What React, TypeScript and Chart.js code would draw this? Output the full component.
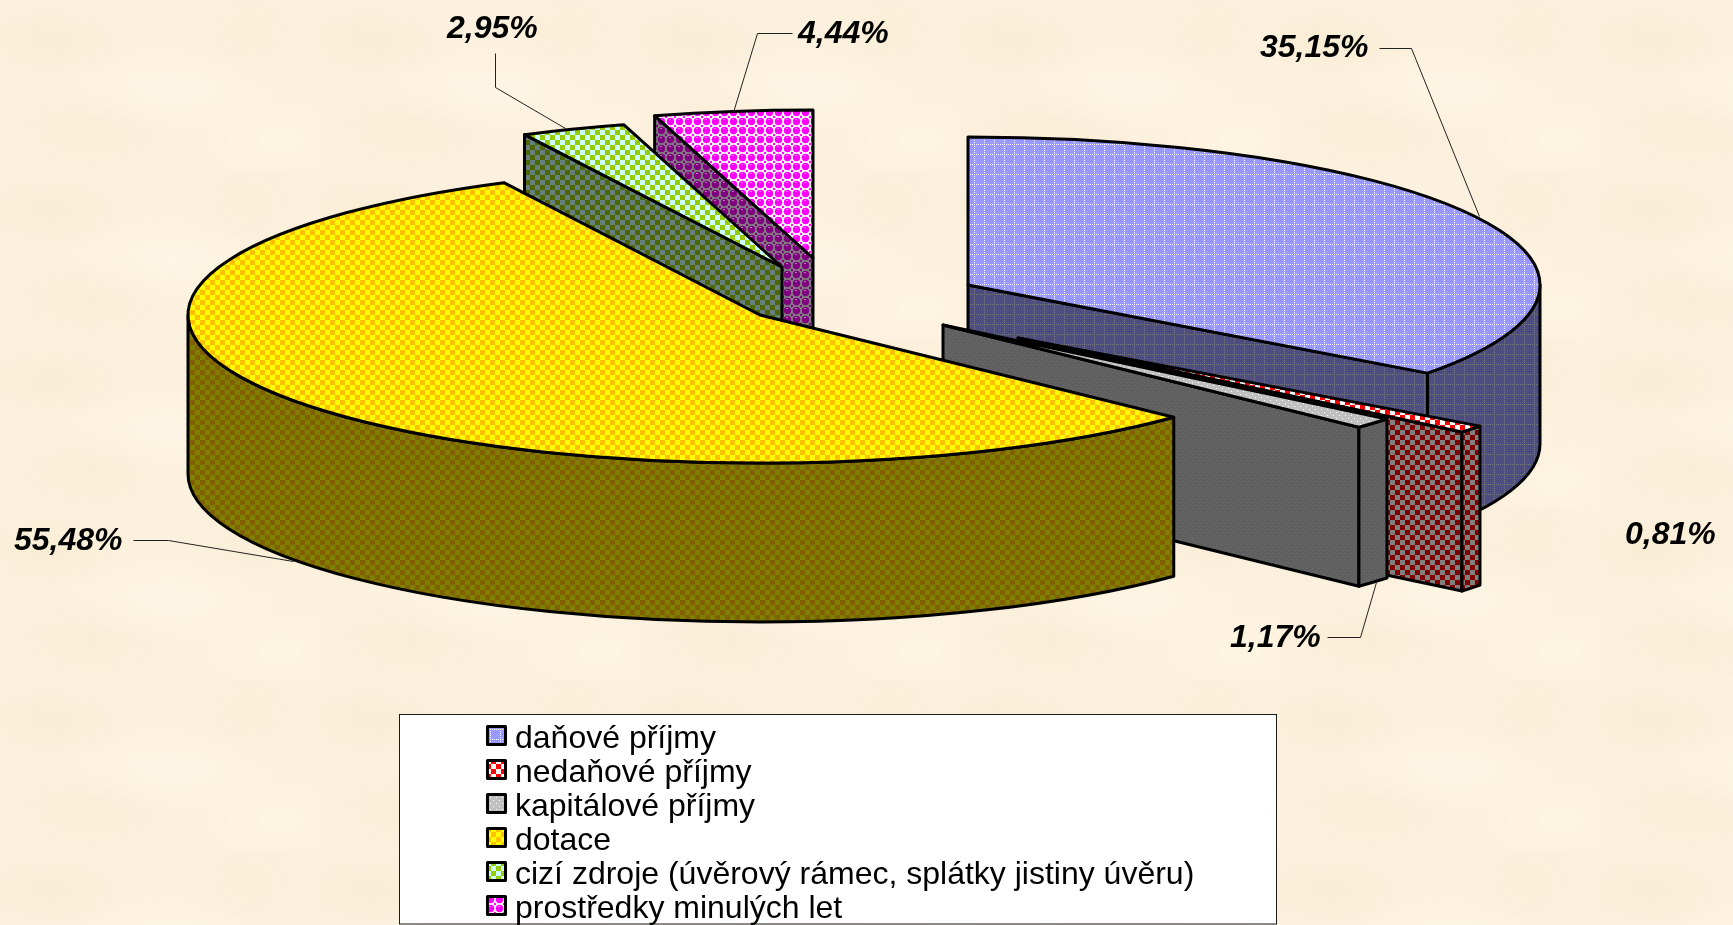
import React, { useEffect, useRef } from "react";
import { Chart, registerables } from "chart.js";

Chart.register(...registerables);

// ---- data ----
const categories = [
  "daňové příjmy",
  "nedaňové příjmy",
  "kapitálové příjmy",
  "dotace",
  "cizí zdroje (úvěrový rámec, splátky jistiny úvěru)",
  "prostředky minulých let",
];
const shares = [35.15, 0.81, 1.17, 55.48, 2.95, 4.44];

// ---- styles ----
const topColors = [
  ["#9999ff", "#ffffff"],
  ["#ff0000", "#ffffff"],
  ["#c0c0c0", "#ffffff"],
  ["#ffff00", "#ffc000"],
  ["#99cc00", "#ccffff"],
  ["#ff00ff", "#ffffff"],
];
const wallColors = [
  ["#4d4d80", "#7a7a78"],
  ["#800000", "#808080"],
  ["#606060", "#707070"],
  ["#808000", "#806000"],
  ["#4d6600", "#668080"],
  ["#800080", "#808080"],
];
const patternKinds = ["grid", "check", "dots", "check", "check", "balls"];

// ---- 3D layout ----
const pieCenterX = 860;
const pieCenterY = 300;
const sliceRadiusX = [572, 575, 575, 572, 575, 575];
const radiusY = 148;
const depth = 159;
const sliceShiftX = [108, 158, 83, -100, -78, -47];
const sliceShiftY = [-15, 38, 25, 15, -33, -42];
const paintOrder = [0, 1, 2, 5, 4, 3];

// ---- label layout ----
const labelX = [1260, 1625, 1230, 14, 447, 798];
const labelY = [48, 535, 638, 541, 29, 34];
const leaders: number[][][] = [
  [[1379, 48], [1411, 48], [1479, 216]],
  [],
  [[1327, 637], [1360, 637], [1376, 582]],
  [[133, 540], [168, 540], [293, 561]],
  [[495, 53], [495, 87], [565, 128]],
  [[792, 33], [757, 33], [733, 112]],
];

function makeTile(kind: string, a: string, b: string): HTMLCanvasElement {
  const c = document.createElement("canvas");
  const g = c.getContext("2d")!;
  if (kind === "check") {
    c.width = c.height = 10;
    g.fillStyle = a;
    g.fillRect(0, 0, 10, 10);
    g.fillStyle = b;
    g.fillRect(0, 0, 5, 5);
    g.fillRect(5, 5, 5, 5);
  } else if (kind === "grid") {
    c.width = c.height = 10;
    g.fillStyle = a;
    g.fillRect(0, 0, 10, 10);
    g.fillStyle = b;
    for (let i = 0; i < 10; i += 2) {
      g.fillRect(i, 4, 1, 1);
      g.fillRect(4, i, 1, 1);
    }
  } else if (kind === "dots") {
    c.width = c.height = 6;
    g.fillStyle = a;
    g.fillRect(0, 0, 6, 6);
    g.fillStyle = b;
    g.fillRect(1, 1, 1, 1);
    g.fillRect(4, 4, 1, 1);
  } else {
    c.width = c.height = 9;
    g.fillStyle = b;
    g.fillRect(0, 0, 9, 9);
    g.fillStyle = a;
    g.beginPath();
    g.arc(4.5, 4.5, 3.7, 0, Math.PI * 2);
    g.fill();
    for (const [x, y] of [[0, 0], [9, 0], [0, 9], [9, 9]]) {
      g.beginPath();
      g.arc(x, y, 1.2, 0, Math.PI * 2);
      g.fill();
    }
    g.fillStyle = "rgba(255,255,255,0.45)";
    g.fillRect(3, 2, 2, 1);
  }
  return c;
}

// the transparent strip under the square lifts it against the label's text
function makeSwatch(tile: HTMLCanvasElement): HTMLCanvasElement {
  const c = document.createElement("canvas");
  c.width = 21;
  c.height = 29;
  const g = c.getContext("2d")!;
  g.fillStyle = g.createPattern(tile, "repeat")!;
  g.fillRect(1, 1, 19, 19);
  g.strokeStyle = "#000";
  g.lineWidth = 3;
  g.lineJoin = "round";
  g.strokeRect(1.5, 1.5, 18, 18);
  return c;
}

function makePie3dPlugin(topPatterns: CanvasPattern[], wallPatterns: CanvasPattern[]) {
  return {
    id: "pie3d",
    beforeDraw(chart: any) {
      const { ctx, legend } = chart;
      ctx.save();
      ctx.fillStyle = "#ffffff";
      ctx.strokeStyle = "#1a1a1a";
      ctx.lineWidth = 1;
      ctx.fillRect(399.5, 714.5, 877, 209.5);
      ctx.strokeRect(399.5, 714.5, 877, 209.5);
      ctx.restore();
      legend.left = 492;
      legend.right = 1270;
      legend.top = 721.5;
      legend.bottom = 935;
      legend.draw = function () {
        this._draw();
      };
    },
    beforeDatasetsDraw(chart: any) {
      const { ctx } = chart;
      const arcs = chart.getDatasetMeta(0).data;
      for (const i of paintOrder) {
        const arc = arcs[i];
        const { startAngle: a0, endAngle: a1 } = arc;
        const radiusX = sliceRadiusX[i];
        const tx = pieCenterX + sliceShiftX[i];
        const ty = pieCenterY + sliceShiftY[i];
        const px = (a: number) => tx + radiusX * Math.cos(a);
        const py = (a: number) => ty + radiusY * Math.sin(a);

        ctx.save();
        ctx.lineWidth = 3;
        ctx.lineJoin = "round";
        ctx.strokeStyle = "#000";
        ctx.fillStyle = wallPatterns[i];

        const face = () => {
          ctx.fill();
          ctx.stroke();
        };
        // radial cut faces that look towards the viewer
        for (const a of [a0, a1]) {
          const visible = a === a0 ? Math.cos(a) < -1e-6 : Math.cos(a) > 1e-6;
          if (!visible) continue;
          ctx.beginPath();
          ctx.moveTo(tx, ty);
          ctx.lineTo(px(a), py(a));
          ctx.lineTo(px(a), py(a) + depth);
          ctx.lineTo(tx, ty + depth);
          ctx.closePath();
          face();
        }
        // curved outer face
        const from = Math.max(a0, 0);
        const to = Math.min(a1, Math.PI);
        if (to > from) {
          ctx.beginPath();
          ctx.ellipse(tx, ty, radiusX, radiusY, 0, from, to, false);
          ctx.lineTo(px(to), py(to) + depth);
          ctx.ellipse(tx, ty + depth, radiusX, radiusY, 0, to, from, true);
          ctx.closePath();
          face();
        }

        // top face: the library's own arc under a flattening transform
        const sx = radiusX / arc.outerRadius;
        const sy = radiusY / arc.outerRadius;
        ctx.save();
        ctx.translate(tx, ty);
        ctx.scale(sx, sy);
        ctx.translate(-arc.x, -arc.y);
        topPatterns[i].setTransform(ctx.getTransform().inverse());
        arc.draw(ctx);
        ctx.restore();

        ctx.beginPath();
        ctx.moveTo(tx, ty);
        ctx.ellipse(tx, ty, radiusX, radiusY, 0, a0, a1, false);
        ctx.closePath();
        ctx.stroke();
        ctx.restore();
      }

      // leader lines and value labels
      ctx.save();
      ctx.strokeStyle = "#222";
      ctx.lineWidth = 1;
      leaders.forEach((pts) => {
        if (!pts.length) return;
        ctx.beginPath();
        pts.forEach(([x, y], k) => (k ? ctx.lineTo(x + 0.5, y + 0.5) : ctx.moveTo(x + 0.5, y + 0.5)));
        ctx.stroke();
      });
      ctx.fillStyle = "#000";
      ctx.font = "italic bold 32px 'Liberation Sans'";
      ctx.textAlign = "left";
      ctx.textBaseline = "middle";
      shares.forEach((v, i) => {
        ctx.fillText(v.toFixed(2).replace(".", ",") + "%", labelX[i], labelY[i]);
      });
      ctx.restore();
      return false;
    },
  };
}

const pageBackground = [
  "radial-gradient(ellipse 90px 40px at 50px 40px, rgba(244,231,200,.45), transparent)",
  "radial-gradient(ellipse 110px 45px at 170px 90px, rgba(255,248,232,.55), transparent)",
  "radial-gradient(ellipse 70px 60px at 250px 30px, rgba(246,234,206,.4), transparent)",
  "radial-gradient(ellipse 100px 50px at 90px 130px, rgba(245,232,203,.4), transparent)",
  "radial-gradient(ellipse 80px 40px at 280px 140px, rgba(255,247,230,.55), transparent)",
].join(",");

export default function App() {
  const ref = useRef<HTMLCanvasElement>(null);
  useEffect(() => {
    const tops = topColors.map(([a, b], i) => makeTile(patternKinds[i], a, b));
    const walls = wallColors.map(([a, b], i) => makeTile(patternKinds[i], a, b));
    const g = ref.current!.getContext("2d")!;
    const topPatterns = tops.map((t) => g.createPattern(t, "repeat")!);
    const wallPatterns = walls.map((t) => g.createPattern(t, "repeat")!);
    const swatches = tops.map(makeSwatch);

    const chart: any = new Chart(ref.current!, {
      type: "pie",
      data: {
        labels: categories,
        datasets: [
          {
            data: shares,
            backgroundColor: topPatterns,
            borderWidth: 0,
          },
        ],
      },
      options: {
        animation: false,
        responsive: false,
        devicePixelRatio: 1,
        events: [],
        plugins: {
          tooltip: { enabled: false },
          legend: {
            display: true,
            position: "left",
            align: "start",
            labels: {
              usePointStyle: true,
              boxWidth: 5,
              padding: 2,
              color: "#000",
              font: { family: "'Liberation Sans'", size: 32 },
              generateLabels: () =>
                categories.map((text, i) => ({
                  text,
                  pointStyle: swatches[i],
                  fillStyle: "#000",
                  strokeStyle: "#000",
                  lineWidth: 1,
                  fontColor: "#000",
                  hidden: false,
                  index: i,
                })),
            },
          },
        },
      } as any,
      plugins: [makePie3dPlugin(topPatterns, wallPatterns) as any],
    } as any);
    return () => chart.destroy();
  }, []);

  return (
    <div
      style={{
        position: "fixed",
        left: 0,
        top: 0,
        width: 1733,
        height: 925,
        overflow: "hidden",
        backgroundColor: "#fcf1de",
        backgroundImage: pageBackground,
        backgroundSize: "320px 170px",
      }}
    >
      <canvas ref={ref} width={1733} height={925} style={{ display: "block" }} />
    </div>
  );
}
